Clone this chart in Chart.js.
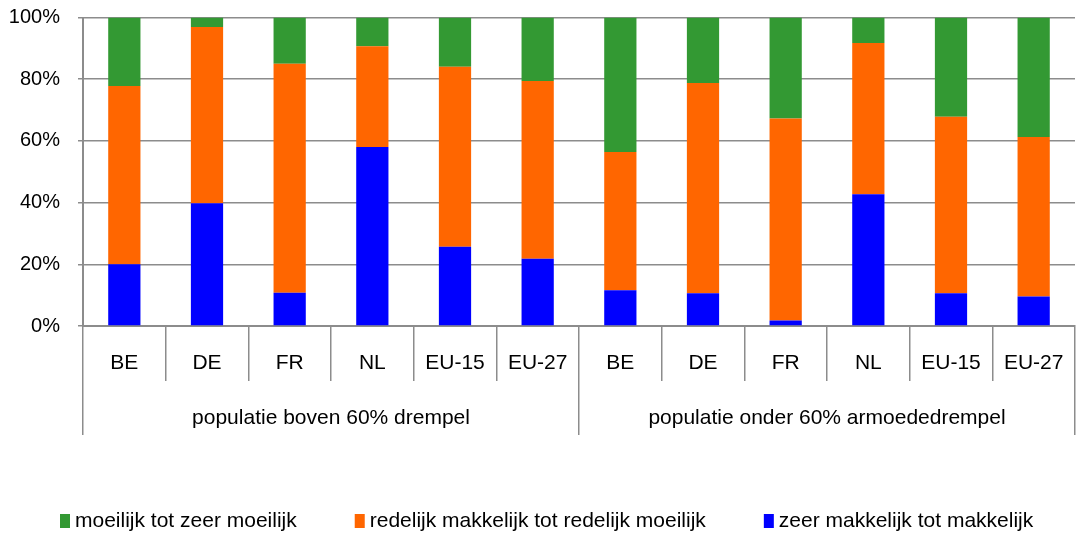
<!DOCTYPE html>
<html>
<head>
<meta charset="utf-8">
<script src="https://cdn.jsdelivr.net/npm/chart.js@4/dist/chart.umd.min.js"></script>
<style>
  body { margin: 0; background: #fff; }
  canvas { display: block; }
</style>
</head>
<body>
<canvas id="chart" width="1076" height="534"></canvas>
<script>
// categorieën (twee groepen van zes)
const categories = ['BE', 'DE', 'FR', 'NL', 'EU-15', 'EU-27', 'BE', 'DE', 'FR', 'NL', 'EU-15', 'EU-27'];
const groups = ['populatie boven 60% drempel', 'populatie onder 60% armoededrempel'];
const yTicks = [0, 20, 40, 60, 80, 100];

// aandelen in % (onderaan -> bovenaan gestapeld)
const zeerMakkelijk = [20.0, 39.8, 10.8, 58.0, 25.7, 21.8, 11.6, 10.6, 1.8, 42.7, 10.6, 9.6];
const redelijk = [57.8, 57.1, 74.2, 32.7, 58.3, 57.6, 44.8, 68.2, 65.5, 49.0, 57.2, 51.7];
const moeilijk = [22.2, 3.1, 15.0, 9.3, 16.0, 20.6, 43.6, 21.2, 32.7, 8.3, 32.2, 38.7];

const FONT = 'Liberation Sans, Arial, sans-serif';
const GRID = '#8c8c8c';

// eigen legenda, in omgekeerde volgorde zoals in het origineel
const legendPlugin = {
  id: 'bottomLegend',
  afterDraw(chart) {
    const ctx = chart.ctx;
    const items = chart.data.datasets.slice().reverse();
    let x = 60;
    const y = 521;
    ctx.save();
    ctx.font = '21px ' + FONT;
    ctx.textBaseline = 'middle';
    ctx.textAlign = 'left';
    items.forEach(ds => {
      ctx.fillStyle = ds.backgroundColor;
      ctx.fillRect(x, y - 7, 10, 14);
      ctx.fillStyle = '#000';
      ctx.fillText(ds.label, x + 15, y);
      x += 15 + ctx.measureText(ds.label).width + 58;
    });
    ctx.restore();
  }
};

new Chart(document.getElementById('chart').getContext('2d'), {
  type: 'bar',
  data: {
    labels: categories,
    datasets: [
      { label: 'zeer makkelijk tot makkelijk', data: zeerMakkelijk, backgroundColor: '#0000ff' },
      { label: 'redelijk makkelijk tot redelijk moeilijk', data: redelijk, backgroundColor: '#ff6600' },
      { label: 'moeilijk tot zeer moeilijk', data: moeilijk, backgroundColor: '#339933' }
    ]
  },
  options: {
    responsive: false,
    animation: false,
    layout: { padding: { top: 17.5, right: 1, bottom: 99, left: 0 } },
    datasets: { bar: { barPercentage: 0.39, categoryPercentage: 1 } },
    plugins: {
      legend: { display: false },
      tooltip: { enabled: false }
    },
    scales: {
      x: {
        stacked: true,
        position: 'bottom',
        grid: { offset: true, drawOnChartArea: false, tickLength: 55, color: GRID, lineWidth: 1.5 },
        border: { display: true, color: GRID, width: 2 },
        ticks: { font: { family: FONT, size: 21 }, color: '#000', padding: -30, maxRotation: 0, autoSkip: false },
        afterFit: s => { s.height = 55; }
      },
      groups: {
        type: 'category',
        labels: groups,
        position: 'bottom',
        grid: { offset: true, drawOnChartArea: false, tickLength: 54, color: GRID, lineWidth: 1.5 },
        border: { display: false },
        ticks: { font: { family: FONT, size: 21 }, color: '#000', padding: -29, maxRotation: 0, autoSkip: false },
        afterFit: s => { s.height = 54; }
      },
      y: {
        stacked: true,
        min: 0,
        max: 100,
        afterBuildTicks: s => { s.ticks = yTicks.map(v => ({ value: v })); },
        grid: { color: GRID, lineWidth: 1.5, tickLength: 5 },
        border: { color: GRID, width: 2 },
        ticks: { font: { family: FONT, size: 20 }, color: '#000', padding: 18, callback: v => v + '%' },
        afterFit: s => { s.width = 83; s.paddingTop = 0; s.paddingBottom = 0; }
      }
    }
  },
  plugins: [legendPlugin]
});
</script>
</body>
</html>
